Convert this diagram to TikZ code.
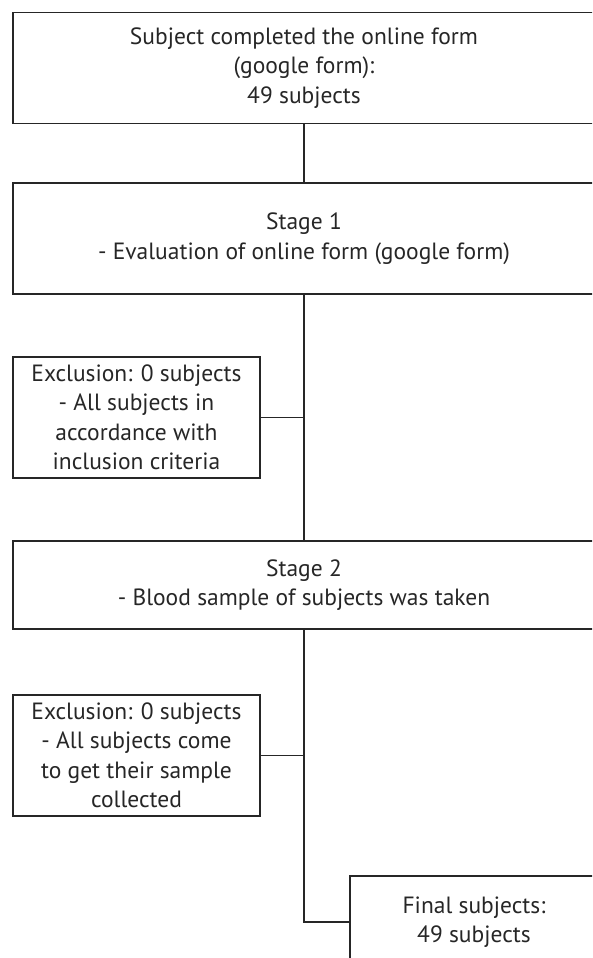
\documentclass[tikz,border=0pt]{standalone}
\usepackage{fontspec}
\setmainfont{PT Sans}
\tikzset{
	box/.style={draw=black!85, line width=1.8pt, rectangle, inner sep=0pt, align=center, text=black!85, font=\fontsize{23.5}{29.5}\selectfont},
	link/.style={draw=black!85, line width=1.8pt}
}

\begin{document}
\begin{tikzpicture}[x=1pt, y=-1pt]
		%%%%% START %%%%%
		
		\useasboundingbox (0, 0) rectangle (592, 958);
		\clip (0, 0) rectangle (592, 958);
		
		\node[box, minimum width=582, minimum height=111] (form) at (304, 68) {Subject completed the online form\\(google form):\\49 subjects};
		\node[box, minimum width=582, minimum height=111] (stageone) at (304, 238.5) {Stage 1\\- Evaluation of online form (google form)};
		
		\node[box, minimum width=247, minimum height=121] (exone) at (136.5, 417.5) {Exclusion: 0 subjects\\- All subjects in\\accordance with\\inclusion criteria};
		
		\node[box, minimum width=582, minimum height=88] (stagetwo) at (304, 585) {Stage 2\\- Blood sample of subjects was taken};
		
		\node[box, minimum width=247, minimum height=121] (extwo) at (136.5, 755.5) {Exclusion: 0 subjects\\- All subjects come\\to get their sample\\collected};
		
		\node[box, minimum width=248, minimum height=92] (final) at (474, 922) {Final subjects:\\49 subjects};
		
		\draw[link] (form) -- (stageone);
		\draw[link] (stageone) -- (stagetwo);
		\draw[link] (exone.east) -- (exone.east -| stageone.south);
		\draw[link] (extwo.east) -- (extwo.east -| stagetwo.south);
		\draw[link] (stagetwo.south) |- (final.west);
		
		%%%%% END %%%%%
\end{tikzpicture}
\end{document}
